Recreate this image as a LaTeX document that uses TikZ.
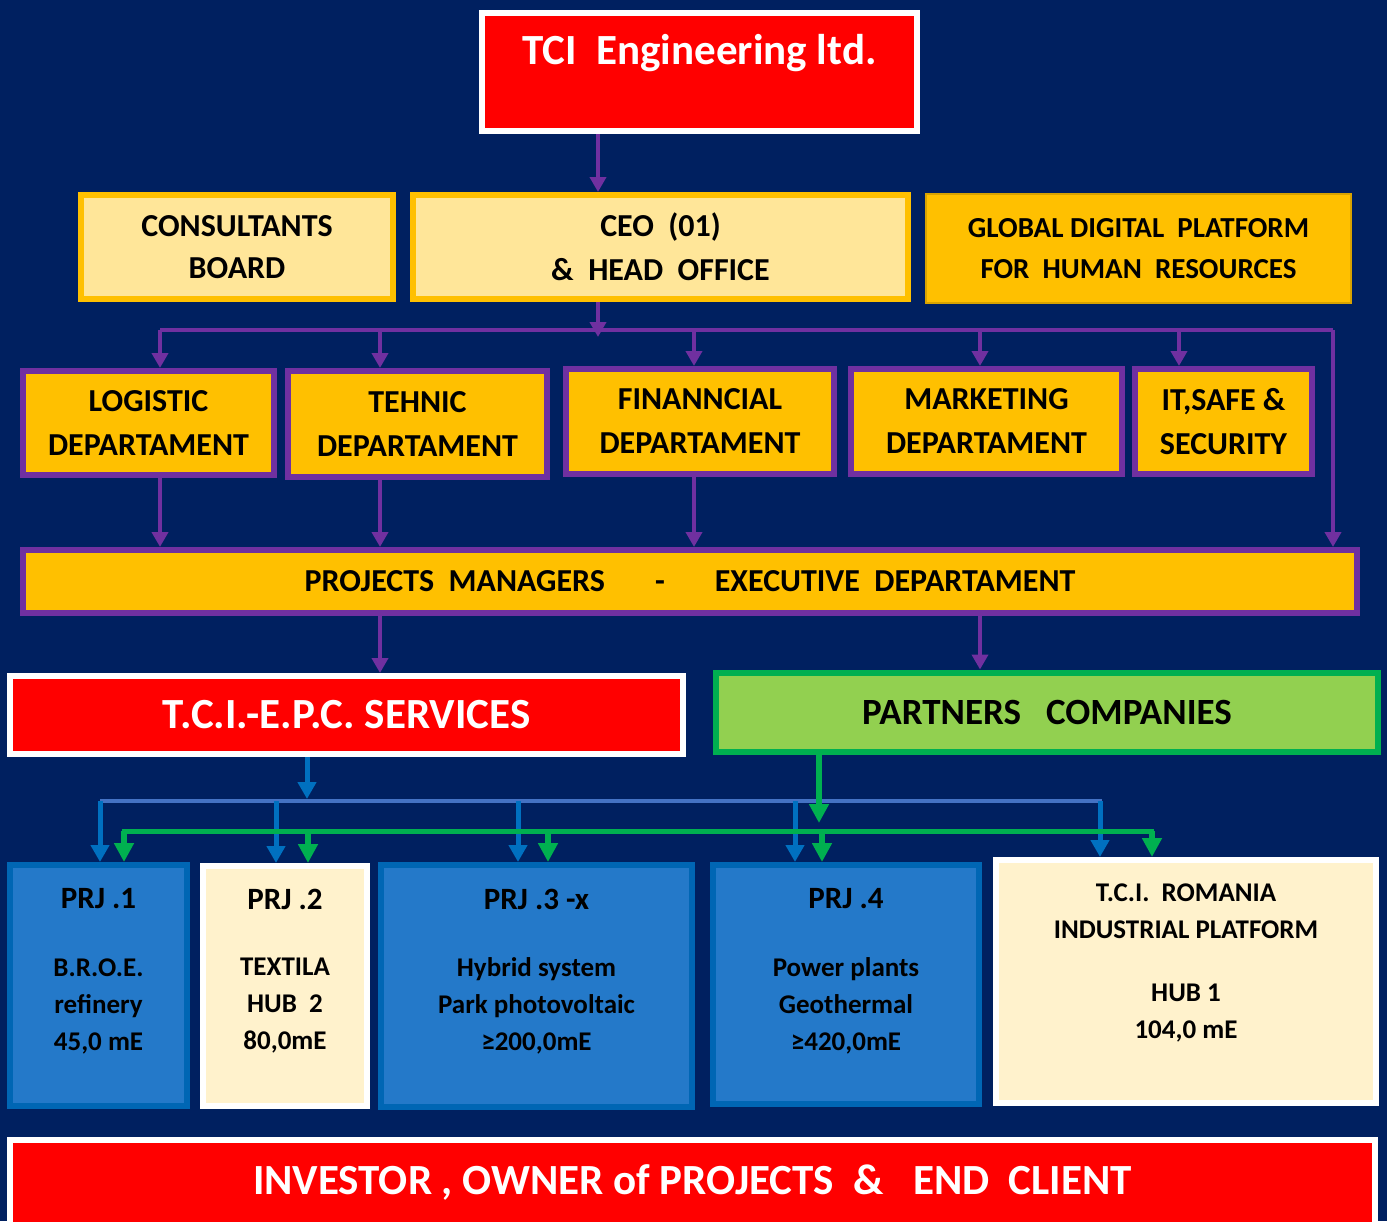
\documentclass[tikz,border=0pt]{standalone}
\usepackage{fontspec}
\setmainfont{Carlito}
\usetikzlibrary{arrows.meta}
\definecolor{navy}{RGB}{0,32,96}
\definecolor{tcired}{RGB}{255,0,0}
\definecolor{gold}{RGB}{255,192,0}
\definecolor{lightgold}{RGB}{255,230,153}
\definecolor{cream}{RGB}{255,242,204}
\definecolor{tcipurple}{RGB}{112,48,160}
\definecolor{prjblue}{RGB}{36,121,201}
\definecolor{prjedge}{RGB}{0,102,180}
\definecolor{busblue}{RGB}{68,114,196}
\definecolor{dropblue}{RGB}{0,112,192}
\definecolor{tcigreen}{RGB}{0,176,80}
\definecolor{lightgreen}{RGB}{146,208,80}

\begin{document}
\begin{tikzpicture}[x=1pt,y=-1pt,
box/.style={rectangle, line width=6pt, inner sep=0pt, align=center, text=black, font=\bfseries\fontsize{32}{44}\selectfont},
redbox/.style={box, draw=white, fill=tcired, text=white, font=\bfseries\fontsize{43}{48}\selectfont},
headbox/.style={box, draw=gold, fill=lightgold},
deptbox/.style={box, draw=tcipurple, fill=gold},
prjbox/.style={box, draw=prjedge, fill=prjblue},
hubbox/.style={box, draw=white, fill=cream},
prjhead/.style={align=center, inner sep=0pt, font=\bfseries\fontsize{31}{36}\selectfont},
prjtxt/.style={align=center, inner sep=0pt, font=\bfseries\fontsize{27}{37}\selectfont},
pline/.style={draw=tcipurple, line width=4pt},
parrow/.style={pline, -{Triangle[width=16pt,length=15pt]}},
barrow/.style={draw=dropblue, line width=5pt, -{Triangle[width=18pt,length=17pt]}},
garrow/.style={draw=tcigreen, line width=6pt, -{Triangle[width=19pt,length=19pt]}}]

\fill[navy] (0,0) rectangle (1387,1221);
\useasboundingbox (0,0) rectangle (1387,1221);

\node[redbox, minimum width=435, minimum height=118] (tci) at (699.5,72) {};
\node[font=\bfseries\fontsize{43}{48}\selectfont, text=white] (tci-txt) at (699.5,53) {TCI\ \ Engineering ltd.};

\node[headbox, minimum width=312, minimum height=104, font=\bfseries\fontsize{32}{42}\selectfont] (consult) at (237,247) {CONSULTANTS\\BOARD};
\node[headbox, minimum width=495, minimum height=104] (ceo) at (660.5,247) {CEO\ \ (01)\\\&\ \ HEAD\ \ OFFICE};
\node[box, draw=gold!85!black, line width=2pt, fill=gold, minimum width=425, minimum height=109, font=\bfseries\fontsize{29}{41}\selectfont] (hr) at (1138.5,248.5) {GLOBAL DIGITAL\ \ PLATFORM\\FOR\ \ HUMAN\ \ RESOURCES};

\node[deptbox, minimum width=251, minimum height=104] (log) at (148.5,423) {LOGISTIC\\DEPARTAMENT};
\node[deptbox, minimum width=259, minimum height=106] (teh) at (417.5,424) {TEHNIC\\DEPARTAMENT};
\node[deptbox, minimum width=268, minimum height=105] (fin) at (700,421.5) {FINANNCIAL\\DEPARTAMENT};
\node[deptbox, minimum width=271, minimum height=105] (mkt) at (986.5,421.5) {MARKETING\\DEPARTAMENT};
\node[deptbox, minimum width=177, minimum height=105] (it) at (1223.5,421.5) {IT,SAFE \&\\SECURITY};

\node[deptbox, minimum width=1334, minimum height=63] (pm) at (690,581.5) {PROJECTS\ \ MANAGERS\hspace{50pt}-\hspace{50pt}EXECUTIVE\ \ DEPARTAMENT};

\node[redbox, minimum width=673, minimum height=78] (epc) at (346.5,715) {T.C.I.-E.P.C. SERVICES};
\node[box, draw=tcigreen, fill=lightgreen, minimum width=662, minimum height=79, font=\bfseries\fontsize{37}{44}\selectfont] (partners) at (1047,712) {PARTNERS\ \ \ COMPANIES};

\node[prjbox, minimum width=177, minimum height=241] (prj1) at (98.5,985.5) {};
\node[hubbox, minimum width=164, minimum height=240] (prj2) at (285,986) {};
\node[prjbox, minimum width=311, minimum height=242] (prj3) at (536.5,986) {};
\node[prjbox, minimum width=266, minimum height=239] (prj4) at (846,984.5) {};
\node[hubbox, minimum width=380, minimum height=243] (rom) at (1186,981.5) {};

\node[prjhead] (prj1-head) at (98.5,899) {PRJ .1};
\node[prjtxt] (prj1-txt) at (98.5,1006) {B.R.O.E.\\refinery\\45,0 mE};
\node[prjhead] (prj2-head) at (285,899) {PRJ .2};
\node[prjtxt] (prj2-txt) at (285,1006) {TEXTILA\\HUB\ \ 2\\80,0mE};
\node[prjhead] (prj3-head) at (536.5,899) {PRJ .3 -x};
\node[prjtxt] (prj3-txt) at (536.5,1006) {Hybrid system\\Park photovoltaic\\≥200,0mE};
\node[prjhead] (prj4-head) at (846,899) {PRJ .4};
\node[prjtxt] (prj4-txt) at (846,1006) {Power plants\\Geothermal\\≥420,0mE};
\node[prjtxt] (rom-head) at (1186,911) {T.C.I.\ \ ROMANIA\\INDUSTRIAL PLATFORM};
\node[prjtxt] (rom-txt) at (1186,1013) {HUB 1\\104,0 mE};

\node[redbox, minimum width=1365, minimum height=85] (inv) at (692.5,1182.5) {INVESTOR , OWNER of PROJECTS\ \ \&\ \ \ END\ \ CLIENT};

\draw[parrow] (tci.south -| 598,0) -- (ceo.north -| 598,0);

\coordinate (pbus-l) at (160,330);
\coordinate (pbus-r) at (1333,330);
\draw[parrow] (ceo.south -| 598,0) -- (598,337);
\draw[pline] (pbus-l) -- (pbus-r);
\draw[parrow] (pbus-r) -- (pbus-r |- pm.north);
\foreach \x/\n in {160/log,380/teh,694/fin,980/mkt,1179/it}{
  \coordinate (top-\n) at (\x,330);
  \draw[parrow] (top-\n) -- (top-\n |- \n.north);
}
\foreach \n in {log,teh,fin}
  \draw[parrow] (\n.south -| top-\n) -- (pm.north -| top-\n);

\draw[parrow] (pm.south -| top-teh) -- (epc.north -| top-teh);
\draw[parrow] (pm.south -| top-mkt) -- (partners.north -| top-mkt);

\coordinate (bbus) at (307,801);
\draw[barrow] (epc.south -| bbus) -- (307,799);
\draw[draw=busblue, line width=4pt] (100,801) -- (1102,801);
\foreach \x/\n in {100/prj1,276/prj2,518/prj3,795/prj4,1100/rom}{
  \coordinate (bdrop-\n) at (\x,801);
  \draw[barrow] (bdrop-\n) -- (bdrop-\n |- \n.north);
}

\coordinate (gbus) at (819,831);
\draw[garrow] (partners.south -| gbus) -- (819,823);
\draw[draw=tcigreen, line width=5pt] (122,831) -- (1154,831);
\foreach \x/\n in {124/prj1,308/prj2,548/prj3,822/prj4,1152/rom}{
  \coordinate (gdrop-\n) at (\x,831);
  \draw[garrow] (gdrop-\n) -- (gdrop-\n |- \n.north);
}
\end{tikzpicture}
\end{document}
